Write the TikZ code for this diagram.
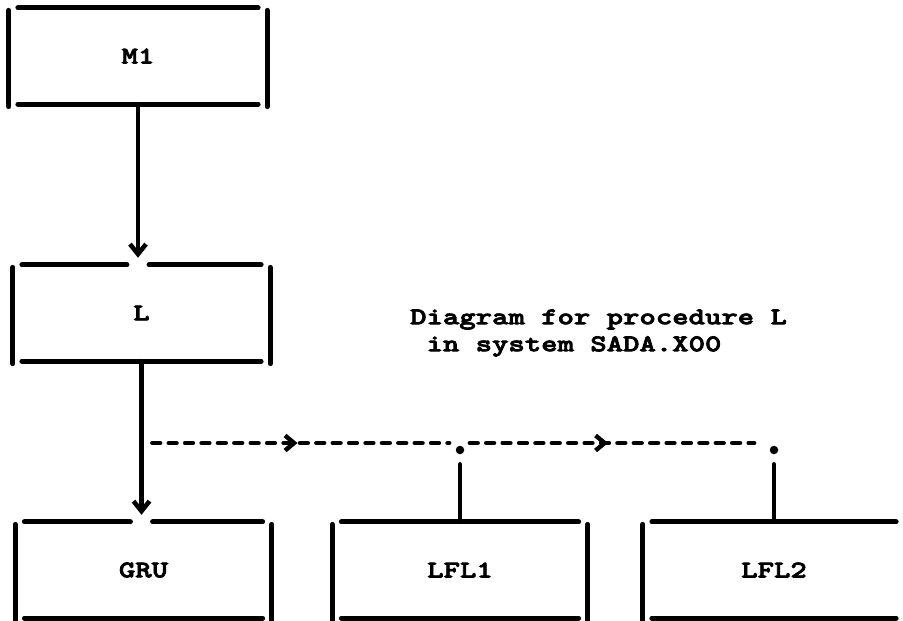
\documentclass[tikz,border=0pt]{standalone}
\usepackage{fontspec}
\newfontfamily\dm[FakeStretch=1.3,FakeBold=3]{lmmonolt10-bold.otf}
\usetikzlibrary{arrows.meta,decorations.markings}
\tikzset{
  ln/.style={line width=4.8pt, line cap=round},
  boxn/.style={inner sep=0pt, minimum height=96pt, font=\dm\fontsize{24}{27}\selectfont},
  txt/.style={inner sep=0pt, font=\dm\fontsize{24}{27}\selectfont},
  asciiv/.tip={Straight Barb[length=10pt,width=16pt,line width=4.6pt]},
  asciigt/.tip={Straight Barb[length=9pt,width=15pt,line width=4.4pt]},
  vconn/.style={ln, -asciiv, shorten >=7pt},
  dline/.style={line width=4.8pt, line cap=round, dash pattern=on 7.5pt off 8.9pt},
  gtmark/.style={postaction={decorate, decoration={markings, mark=at position #1 with {\arrow{asciigt}}}}},
  dotn/.style={circle, fill, inner sep=0pt, minimum size=8.5pt}
}
\newcommand\boxsides[1]{%
  \draw[ln] ([yshift=-2.5pt]#1.north west) -- ([yshift=-2.5pt]#1.south west);
  \draw[ln] ([yshift=-2.5pt]#1.north east) -- ([yshift=-2.5pt]#1.south east);
  \draw[ln] ([xshift=9pt]#1.south west) -- ([xshift=-9pt]#1.south east);}
\begin{document}
\begin{tikzpicture}[x=1pt,y=-1pt]
\useasboundingbox (0,0) rectangle (903,621);
% boxes
\node[boxn, minimum width=258pt] (M1) at (138,56) {M1};
\node[boxn, minimum width=257pt] (L) at (141.5,313) {L};
\node[boxn, minimum width=256pt] (GRU) at (143.5,570) {GRU};
\node[boxn, minimum width=255pt] (LFL1) at (460,570) {LFL1};
\node[boxn, minimum width=262pt] (LFL2) at (774,570) {LFL2};
% frames
\draw[ln] ([xshift=9pt]M1.north west) -- ([xshift=-9pt]M1.north east);
\boxsides{M1}
\draw[ln] ([xshift=9pt]L.north west) -- ([xshift=-11pt]M1.south |- L.north);
\draw[ln] ([xshift=11pt]M1.south |- L.north) -- ([xshift=-9pt]L.north east);
\boxsides{L}
\draw[ln] ([xshift=9pt]GRU.north west) -- ([xshift=-11pt]L.south |- GRU.north);
\draw[ln] ([xshift=11pt]L.south |- GRU.north) -- ([xshift=-9pt]GRU.north east);
\boxsides{GRU}
\draw[ln] ([xshift=9pt]LFL1.north west) -- ([xshift=-9pt]LFL1.north east);
\boxsides{LFL1}
\draw[ln] ([xshift=9pt]LFL2.north west) -- ([xshift=-9pt]LFL2.north east);
\draw[ln] ([yshift=-2.5pt]LFL2.north west) -- ([yshift=-2.5pt]LFL2.south west);
\draw[ln] ([xshift=9pt]LFL2.south west) -- ([xshift=-9pt]LFL2.south east);
% calls
\draw[vconn] (M1.south) -- (M1.south |- L.north);
\draw[vconn] (L.south) -- (L.south |- GRU.north);
% dashed references
\coordinate (j0) at (L.south |- 0,443);
\coordinate (d1) at (LFL1.north |- 0,443);
\coordinate (d2) at (LFL2.north |- 0,443);
\draw[dline, shorten <=11pt, shorten >=11pt, gtmark=156pt] (j0) -- (d1);
\draw[dline, shorten <=10pt, shorten >=20pt, gtmark=148pt] (d1) -- (d2);
\node[dotn] (p1) at ([yshift=-7pt]d1) {};
\node[dotn] (p2) at ([yshift=-7pt]d2) {};
\draw[ln, shorten <=10pt] (p1) -- (p1 |- LFL1.north);
\draw[ln, shorten <=10pt] (p2) -- (p2 |- LFL2.north);
% title
\node[txt, anchor=west, align=left] (title) at (410,333) {Diagram for procedure L\\\mbox{}\ in system SADA.X00};
\end{tikzpicture}
\end{document}
